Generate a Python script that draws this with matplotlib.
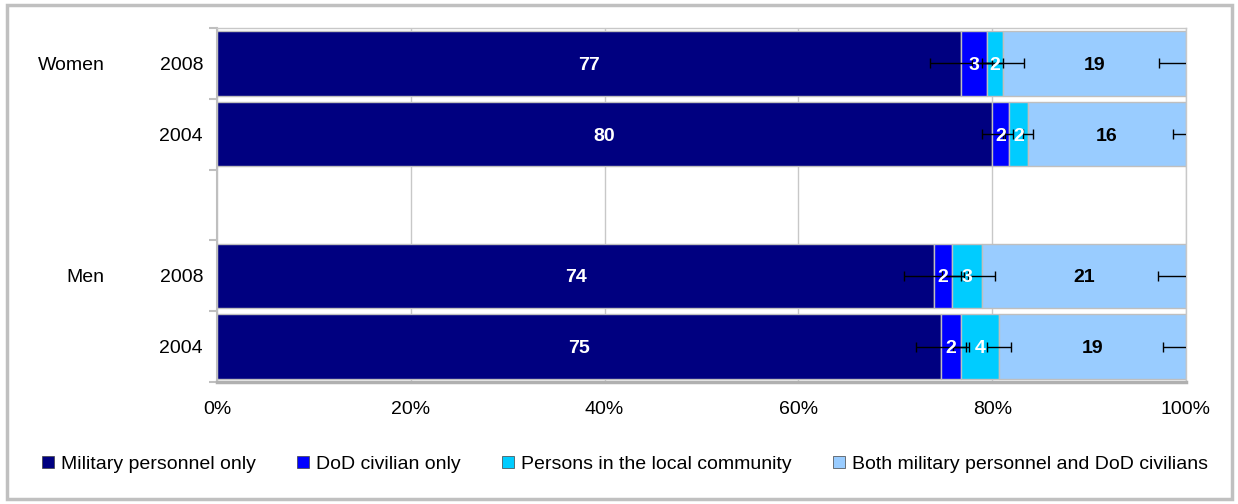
import matplotlib
matplotlib.use("Agg")
import matplotlib.pyplot as plt
import matplotlib.transforms as mtransforms
from matplotlib.lines import Line2D
from matplotlib.patches import Rectangle
import numpy as np

plt.rcParams['font.family'] = ['Liberation Sans', 'DejaVu Sans']

# data (percent of each row)
series = ['Military personnel only', 'DoD civilian only',
          'Persons in the local community', 'Both military personnel and DoD civilians']
colors = ['#000080', '#0000FF', '#00CCFF', '#99CCFF']
label_colors = ['white', 'white', 'white', 'black']

row_years = ['2008', '2004', '2008', '2004']
row_groups = ['Women', '', 'Men', '']
row_pos = [0.5, 1.5, 3.5, 4.5]

military = [76.8, 80.0, 74.0, 74.7]
civilian = [2.7, 1.7, 1.8, 2.1]
local = [1.6, 2.0, 3.1, 3.9]
both = [18.9, 16.3, 21.1, 19.3]

shown_military = [77, 80, 74, 75]
shown_civilian = [3, 2, 2, 2]
shown_local = [2, 2, 3, 4]
shown_both = [19, 16, 21, 19]

err_military = [3.2, 1.1, 3.1, 2.6]
err_civilian = [1.6, 0.4, 1.0, 0.8]
err_local = [2.2, 0.5, 1.4, 1.2]
err_both = [2.8, 1.3, 2.9, 2.4]

values = [military, civilian, local, both]
shown = [shown_military, shown_civilian, shown_local, shown_both]
errs = [err_military, err_civilian, err_local, err_both]

fig = plt.figure(figsize=(12.38, 5.04), dpi=100)
ax = fig.add_axes([217 / 1238, 1 - 382 / 504, 969 / 1238, 354 / 504])

left = np.zeros(len(row_pos))
for vals, lab, col, tcol, err, name in zip(values, shown, colors, label_colors, errs, series):
    vals = np.array(vals)
    ax.barh(row_pos, vals, left=left, height=0.91, color=col,
            edgecolor='#BFBFBF', linewidth=1, zorder=2, label=name)
    ends = left + vals
    ax.errorbar(ends, row_pos, xerr=err, fmt='none', ecolor='black',
                elinewidth=1, capsize=3.5, capthick=1, zorder=3)
    for y, l, v, t in zip(row_pos, left, vals, lab):
        ax.text(l + v / 2, y + 0.03, str(t), color=tcol, fontsize=14,
                fontweight='bold', ha='center', va='center', zorder=4)
    left = ends

ax.set_xlim(0, 100)
ax.set_ylim(5, 0)
ax.set_xticks([0, 20, 40, 60, 80, 100])
ax.set_xticklabels(['0%', '20%', '40%', '60%', '80%', '100%'], fontsize=14)
ax.tick_params(axis='x', length=0, pad=14)
ax.set_yticks([0, 1, 2, 3, 4, 5])
ax.set_yticklabels([])
ax.tick_params(axis='y', length=6, width=1.5, color='#BFBFBF', direction='out')
ax.grid(axis='x', color='#C8C8C8', linewidth=1, zorder=0)
ax.set_axisbelow(True)

for side in ['top', 'right']:
    ax.spines[side].set_color('#C8C8C8')
    ax.spines[side].set_linewidth(1)
ax.spines['left'].set_color('#BFBFBF')
ax.spines['left'].set_linewidth(1.5)
ax.spines['bottom'].set_color('#B0B0B0')
ax.spines['bottom'].set_linewidth(2.5)

trans = mtransforms.blended_transform_factory(ax.transAxes, ax.transData)
for y, yr, grp in zip(row_pos, row_years, row_groups):
    ax.text(-0.0144, y + 0.03, yr, transform=trans, ha='right', va='center', fontsize=14)
    if grp:
        ax.text(-0.116, y + 0.03, grp, transform=trans, ha='right', va='center', fontsize=14)

handles = [Line2D([], [], marker='s', linestyle='none', markersize=9,
                  markerfacecolor=c, markeredgecolor='#404040', markeredgewidth=0.5)
           for c in colors]
fig.legend(handles, series, loc='center', bbox_to_anchor=(0.504, 1 - 464 / 504),
           ncol=4, frameon=False, fontsize=14, handletextpad=0.3,
           columnspacing=2.0, handlelength=0.8)

fig.patches.append(Rectangle((7 / 1238, 5 / 504), 1225 / 1238, 494 / 504,
                             transform=fig.transFigure, fill=False,
                             edgecolor='#C0C0C0', linewidth=2.5))

fig.savefig('out.png', dpi=100)
